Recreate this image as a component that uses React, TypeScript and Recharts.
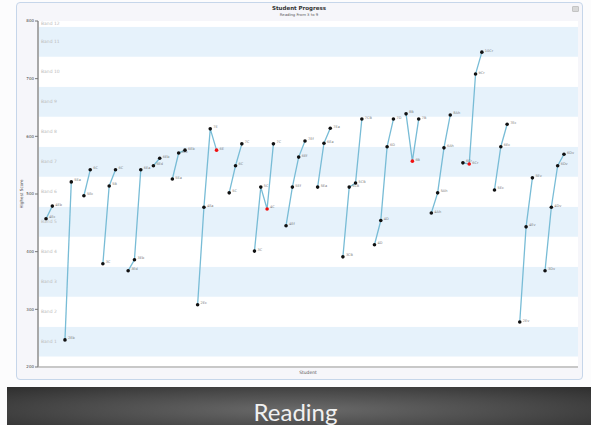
import React from "react";
import { LineChart, Line, XAxis, YAxis, ReferenceArea, Label } from "recharts";

// reading bands (score ranges), odd bands shaded
const bandNames = [
  "Band 1", "Band 2", "Band 3", "Band 4", "Band 5", "Band 6",
  "Band 7", "Band 8", "Band 9", "Band 10", "Band 11", "Band 12",
];
const bandEdges = [218, 270, 322, 374, 426, 478, 530, 582, 634, 686, 738, 790, 800];
const yTicks = [200, 300, 400, 500, 600, 700, 800];

// one list of test scores per student, in test order
const scores = [
  [457, 479],
  [247, 521],
  [497, 542],
  [379, 514, 542],
  [367, 386, 542],
  [549, 562],
  [526, 571, 576],
  [308, 477, 613, 576],
  [502, 549, 587],
  [401, 512, 474, 587],
  [445, 512, 564, 592],
  [512, 588, 614],
  [391, 512, 519, 630],
  [412, 454, 582, 630],
  [639, 557, 630],
  [467, 502, 580, 637],
  [554, 552, 708, 746],
  [507, 582, 621],
  [278, 443, 528],
  [367, 477, 549, 569],
];

const levels = [
  ["4Ec", "4Eb"],
  ["2Eb", "5Ea"],
  ["5Ec", "6C"],
  ["3C", "5B", "6C"],
  ["3Ed", "3Eb", "6Ea"],
  ["6Ed", "6Eb"],
  ["5Ea", "6Ec", "6Eb"],
  ["2Ec", "4Ea", "7E", "6E"],
  ["5C", "6C", "7C"],
  ["3C", "5C", "4C", "7C"],
  ["4Ef", "5Ef", "6Ef", "7Ef"],
  ["5Ea", "6Ea", "7Ea"],
  ["3CB", "5CB", "5CB", "7CB"],
  ["4D", "4D", "6D", "7D"],
  ["8B", "6B", "7B"],
  ["4Ah", "5Ah", "6Ah", "8Ah"],
  ["6Cr", "6Cr", "9Cr", "10Cr"],
  ["5Ec", "6Ec", "7Ec"],
  ["2Ev", "4Ev", "5Ev"],
  ["3Dv", "4Dv", "6Dv", "6Dv"],
];

// lay the tests out one after another, one empty slot between students
const series = (() => {
  let start = 0;
  return scores.map((list, s) => {
    const data = list.map((y, t) => ({
      x: start + t,
      y,
      label: levels[s][t],
      drop: t > 0 && y < list[t - 1],
    }));
    start += list.length + 1;
    return data;
  });
})();

const renderDot = (s: number) => (props: any) => {
  const { cx, cy, payload, index } = props;
  if (cx == null || cy == null) return <g key={`d-${s}-${index}`} />;
  return (
    <g key={`d-${s}-${index}`}>
      <circle cx={cx} cy={cy} r={1.8} fill={payload.drop ? "#f01010" : "#111"} />
      <text x={cx + 3} y={cy - 0.5} fontSize={3.5} fill="#777" fontFamily="DejaVu Sans">
        {payload.label}
      </text>
    </g>
  );
};

export default function App() {
  return (
    <div
      style={{
        position: "absolute",
        left: 0,
        top: 0,
        width: 591,
        height: 425,
        overflow: "hidden",
        background: "#fcfcfd",
        fontFamily: "DejaVu Sans, sans-serif",
      }}
    >
      {/* chart frame */}
      <div
        style={{
          position: "absolute",
          left: 16,
          top: 2,
          width: 565,
          height: 376,
          border: "1px solid #c6d6ea",
          borderRadius: 4,
          background: "#f6f6fa",
        }}
      />
      <div style={{ position: "absolute", left: 0, width: 598, top: 5, textAlign: "center", fontSize: 5.5, fontWeight: "bold", color: "#333" }}>
        Student Progress
      </div>
      <div style={{ position: "absolute", left: 0, width: 598, top: 12, textAlign: "center", fontSize: 3.8, color: "#555" }}>
        Reading From 3 to 9
      </div>
      <div
        style={{
          position: "absolute",
          left: 572,
          top: 6,
          width: 7,
          height: 6,
          background: "#d8d8d8",
          borderRadius: 1,
          border: "1px solid #c4c4c4",
          boxSizing: "border-box",
        }}
      />

      <div style={{ position: "absolute", left: 0, top: 0 }}>
        <LineChart width={591} height={425} margin={{ top: 21, right: 13, left: 18, bottom: 48 }}>
          <XAxis
            type="number"
            dataKey="x"
            domain={[-1.27, 84.22]}
            allowDataOverflow
            tick={false}
            tickLine={false}
            height={10}
            axisLine={{ stroke: "#c8c8c8", strokeWidth: 2 }}
          >
            <Label value="Student" position="center" fontSize={4.5} fill="#555" />
          </XAxis>
          <YAxis
            type="number"
            domain={[200, 800]}
            ticks={yTicks}
            interval={0}
            width={20}
            tickSize={3}
            tickMargin={1}
            tick={{ fontSize: 4, fill: "#444" }}
            tickLine={{ stroke: "#777" }}
            axisLine={{ stroke: "#a8a8a8", strokeWidth: 2 }}
          >
            <Label
              content={() => (
                <text x={23} y={194} transform="rotate(-90 23 194)" textAnchor="middle" fontSize={4.2} fill="#444">
                  Highest Score
                </text>
              )}
            />
          </YAxis>
          <ReferenceArea y1={200} y2={800} fill="#ffffff" fillOpacity={1} stroke="none" />
          {bandNames.map((name, i) => (
            <ReferenceArea
              key={name}
              y1={bandEdges[i]}
              y2={bandEdges[i + 1]}
              fill={i % 2 === 0 ? "#e6f2fb" : "#ffffff"}
              fillOpacity={1}
              stroke="none"
              label={{ value: name, position: "insideLeft", offset: 3, fontSize: 4.5, fill: "#bcbcbc" }}
            />
          ))}
          {series.map((data, s) => (
            <Line
              key={s}
              data={data}
              dataKey="y"
              type="linear"
              stroke="#78bcd6"
              strokeWidth={1.3}
              dot={renderDot(s)}
              activeDot={false}
              isAnimationActive={false}
            />
          ))}
        </LineChart>
      </div>

      {/* slide caption */}
      <div
        style={{
          position: "absolute",
          left: 7,
          right: 0,
          top: 387,
          height: 38,
          background: "radial-gradient(ellipse at 50% 60%, #6a6a6a 0%, #4a4a4a 55%, #2e2e2e 100%)",
        }}
      />
      <div
        style={{
          position: "absolute",
          left: 0,
          width: 591,
          top: 400,
          lineHeight: "24px",
          textAlign: "center",
          fontSize: 24,
          fontFamily: "Lato, sans-serif",
          color: "#f0f0f0",
        }}
      >
        Reading
      </div>
    </div>
  );
}
